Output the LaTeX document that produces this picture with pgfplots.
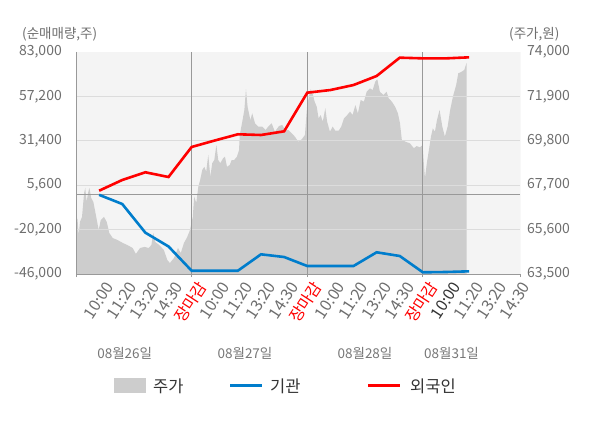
\documentclass[border=0pt]{standalone}
\usepackage{fontspec}
\setmainfont{Noto Sans CJK KR}
\usepackage{pgfplots}
\pgfplotsset{compat=1.18}
\definecolor{bgfill}{HTML}{F4F4F4}
\definecolor{areagray}{HTML}{CDCDCD}
\definecolor{tickgray}{HTML}{6E6E6E}
\definecolor{dategray}{HTML}{777777}
\definecolor{gridgray}{HTML}{DCDCDC}
\definecolor{axisgray}{HTML}{999999}
\definecolor{instblue}{RGB}{0,125,204}
\definecolor{forred}{RGB}{255,0,0}
\definecolor{legtext}{HTML}{333333}
\newcommand\tickfont{\fontsize{14bp}{16bp}\selectfont}
\newcommand\xtickfont{\fontsize{16bp}{18bp}\selectfont}
\newcommand\smallfont{\fontsize{13.5bp}{16bp}\selectfont}
\newcommand\legfont{\fontsize{16.5bp}{18bp}\selectfont}
\begin{document}
\begin{tikzpicture}[x=1bp,y=1bp]
\path[use as bounding box] (0,0) rectangle (600,428);
% price axis (right) with area
\begin{axis}[at={(76bp,154bp)}, anchor=south west, scale only axis,
  width=444bp, height=222bp,
  xmin=0, xmax=19.2, ymin=63500, ymax=74000,
  scaled ticks=false,
  axis line style={draw=none},
  axis background/.style={fill=bgfill},
  xtick=\empty,
  ytick={63500,65600,67700,69800,71900,74000},
  yticklabels={{63,500},{65,600},{67,700},{69,800},{71,900},{74,000}},
  ytick pos=right, yticklabel pos=right,
  major tick length=0pt,
  yticklabel style={font=\tickfont, text=tickgray, anchor=west, inner sep=0pt, xshift=7bp},
]
\addplot[fill=areagray, draw=none] table {
0 65580
0.06 66150
0.12 65340
0.17 65960
0.26 66200
0.35 67330
0.40 67570
0.46 66910
0.52 67330
0.58 67570
0.66 67090
0.75 66910
0.86 66290
0.98 65580
1.07 66050
1.21 66200
1.33 65960
1.44 65440
1.59 65200
1.79 65110
2.02 64970
2.22 64870
2.45 64730
2.59 64450
2.77 64730
2.97 64780
3.14 64730
3.26 64870
3.34 65440
3.43 65010
3.60 64870
3.80 64630
3.95 64160
4.06 64020
4.24 64260
4.41 64730
4.53 64490
4.67 64970
4.81 65250
4.93 65580
5.05 66200
5.11 67160
5.20 66860
5.29 67630
5.37 67950
5.46 68420
5.55 68570
5.63 68340
5.72 69130
5.81 68100
5.89 68740
5.98 68890
6.07 69600
6.15 68890
6.24 68740
6.36 68970
6.44 69050
6.53 68570
6.65 68660
6.73 68890
6.84 68890
6.96 69050
7.05 69360
7.08 70070
7.19 70700
7.28 71260
7.35 72240
7.42 71410
7.54 70780
7.62 71100
7.74 70630
7.88 70470
8.05 70470
8.20 70310
8.31 70470
8.46 70630
8.60 70230
8.78 70500
8.92 70550
9.04 70310
9.18 70310
9.33 70150
9.47 69990
9.61 69760
9.76 69870
9.90 70070
9.99 71410
10.09 71970
10.15 72240
10.23 72050
10.32 71650
10.41 71410
10.49 70860
10.58 71020
10.67 70700
10.78 71340
10.86 70700
10.98 70230
11.10 70470
11.21 70280
11.36 70280
11.47 70470
11.59 70860
11.73 71020
11.85 71180
11.96 71020
12.08 71490
12.19 71100
12.31 71730
12.45 71650
12.57 72120
12.71 72280
12.83 72200
12.94 72600
13.03 72710
13.14 72120
13.29 71970
13.43 72120
13.52 71810
13.66 71650
13.80 71410
13.92 71100
14.01 70630
14.09 69840
14.24 69760
14.44 69680
14.61 69450
14.73 69550
14.87 69490
14.99 69600
15.03 68890
15.09 68030
15.17 68740
15.26 69360
15.35 70000
15.43 70390
15.52 70230
15.61 70780
15.72 71260
15.84 70470
15.95 70000
16.07 70470
16.18 71260
16.30 71890
16.44 72440
16.53 72990
16.68 73070
16.79 73150
16.89 73490
} \closedcycle;
\end{axis}
% net volume axis (left) with lines
\begin{axis}[at={(76bp,154bp)}, anchor=south west, scale only axis,
  width=444bp, height=222bp,
  xmin=0, xmax=19.2, ymin=-46000, ymax=83000,
  scaled ticks=false,
  axis line style={draw=none},
  ytick={-46000,-20200,5600,31400,57200,83000},
  yticklabels={{-46,000},{-20,200},{5,600},{31,400},{57,200},{83,000}},
  ytick pos=left, yticklabel pos=left,
  yticklabel style={font=\tickfont, text=tickgray, anchor=east, inner sep=0pt, xshift=-11bp},
  y tick style={draw=none},
  xtick={0,5,10,15,19.2}, xticklabels={,,,,},
  xtick pos=bottom, tick align=outside, x tick style={axisgray, line width=0.8bp},
  major tick length=3bp,
  extra x ticks={1,2,3,4,5,6,7,8,9,10,11,12,13,14,15,16,17,18,19},
  extra x tick labels={10:00,11:20,13:20,14:30,\textcolor{forred}{장마감},
    10:00,11:20,13:20,14:30,\textcolor{forred}{장마감},
    10:00,11:20,13:20,14:30,\textcolor{forred}{장마감},
    \textcolor{legtext}{10:00},11:20,13:20,14:30},
  extra x tick style={major tick length=0pt, x tick style={draw=none},
    tick label style={rotate=57, anchor=east, inner sep=0pt, font=\xtickfont, text=tickgray, yshift=-14bp, xshift=-2bp}},
]
\draw[gridgray, line width=0.9bp] (axis cs:0,57200) -- (axis cs:19.2,57200);
\draw[gridgray, line width=0.9bp] (axis cs:0,31400) -- (axis cs:19.2,31400);
\draw[gridgray, line width=0.9bp] (axis cs:0,5600) -- (axis cs:19.2,5600);
\draw[gridgray, line width=0.9bp] (axis cs:0,-20200) -- (axis cs:19.2,-20200);
\draw[axisgray, line width=0.9bp] (axis cs:0,0) -- (axis cs:19.2,0);
\draw[axisgray, line width=0.9bp] (axis cs:5,-46000) -- (axis cs:5,83000);
\draw[axisgray, line width=0.9bp] (axis cs:10,-46000) -- (axis cs:10,83000);
\draw[axisgray, line width=0.9bp] (axis cs:15,-46000) -- (axis cs:15,83000);
\draw[axisgray, line width=0.9bp] (rel axis cs:0,1) -- (rel axis cs:0,0) -- (rel axis cs:1,0);
\draw[gridgray!70!axisgray, line width=0.9bp] (rel axis cs:1,0) -- (rel axis cs:1,1);
\addplot[instblue, line width=2.6bp] table {
1 0
2 -5330
3 -22000
4 -30000
5 -44090
6 -44090
7 -44090
8 -34560
9 -36130
10 -41360
11 -41360
12 -41360
13 -33390
14 -35540
15 -45020
16 -44840
17 -44440
};
\addplot[forred, line width=2.6bp] table {
1 2400
2 8620
3 13100
4 10360
5 27800
6 31570
7 35180
8 34770
9 36900
10 59350
11 60900
12 63800
13 69050
14 79700
15 79300
16 79300
17 79900
};
\end{axis}
% axis titles
\node[anchor=west, inner sep=0pt, text=tickgray, font=\smallfont] at (22,394) {(순매매량,주)};
\node[anchor=west, inner sep=0pt, text=tickgray, font=\smallfont] at (509,394) {(주가,원)};
% date labels
\node[text=dategray, font=\smallfont, inner sep=0pt] at (124.7,75) {08월26일};
\node[text=dategray, font=\smallfont, inner sep=0pt] at (245,75) {08월27일};
\node[text=dategray, font=\smallfont, inner sep=0pt] at (365,75) {08월28일};
\node[text=dategray, font=\smallfont, inner sep=0pt] at (451.5,75) {08월31일};
% legend
\fill[areagray] (114,35.3) rectangle (146,49.7);
\node[anchor=west, inner sep=0pt, text=legtext, font=\legfont] at (153,42) {주가};
\draw[instblue, line width=3bp] (230,42.5) -- (262,42.5);
\node[anchor=west, inner sep=0pt, text=legtext, font=\legfont] at (270,42) {기관};
\draw[forred, line width=3bp] (368,42.5) -- (400,42.5);
\node[anchor=west, inner sep=0pt, text=legtext, font=\legfont] at (410,42) {외국인};
\end{tikzpicture}
\end{document}
